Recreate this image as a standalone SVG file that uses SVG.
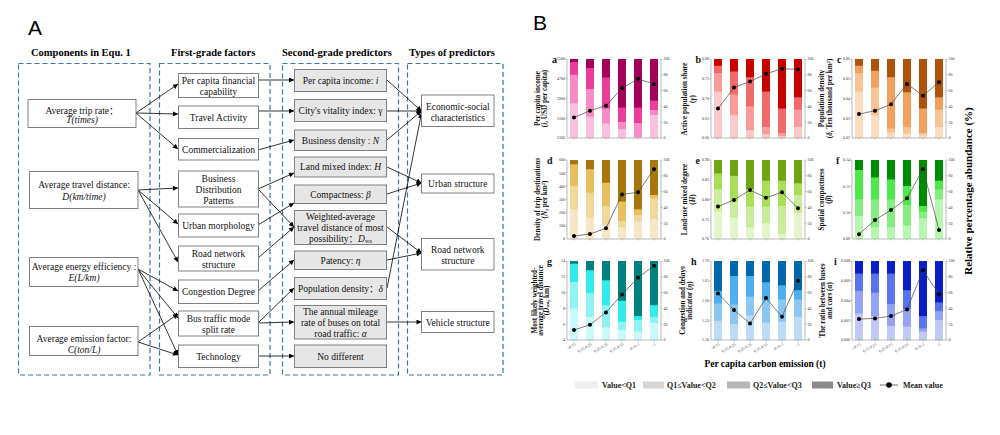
<svg xmlns="http://www.w3.org/2000/svg" width="1000" height="435" viewBox="0 0 1000 435">
<defs>
<marker id="ah" viewBox="0 0 10 10" refX="10" refY="5" markerWidth="6" markerHeight="5" orient="auto" markerUnits="userSpaceOnUse"><path d="M0,0 L10,5 L0,10 z" fill="#000"/></marker>
<style>
.hd{font:bold 10.5px "Liberation Serif","Times New Roman",serif;fill:#000}
.nt{font:9.5px "Liberation Serif","Times New Roman","Noto Sans CJK SC",serif;text-anchor:middle;fill:#111}
.nd{fill:#fff;stroke:#808080;stroke-width:1}
.ng{fill:#e6e6e6;stroke:#808080;stroke-width:1}
.dash{fill:none;stroke:#3f72a8;stroke-width:1.2;stroke-dasharray:5 3}
.cn{stroke:#000;stroke-width:0.8;fill:none;marker-end:url(#ah)}
.it{font-style:italic}
.ax{fill:none;stroke:#8c8c8c;stroke-width:0.6}
.tk{font:4px "Liberation Serif",serif;fill:#333}
.tl{text-anchor:end}
.yt{font:bold 7.2px "Liberation Serif","Times New Roman",serif;text-anchor:middle;fill:#111}
.pl{font:bold 10px "Liberation Serif",serif;fill:#111}
.ml{fill:none;stroke:#444;stroke-width:0.7}
.lg{font:bold 8px "Liberation Serif","Times New Roman",serif;fill:#222}
.a1{fill:#fbc0dd}.a2{fill:#f58cc5}.a3{fill:#ec3d9c}.a4{fill:#a3005a}
.b1{fill:#fcc8c8}.b2{fill:#f99c9c}.b3{fill:#f26a6a}.b4{fill:#c80000}
.c1{fill:#fbdcc0}.c2{fill:#f8c295}.c3{fill:#f2a060}.c4{fill:#b0520c}
.d1{fill:#f7e6c3}.d2{fill:#f0d79a}.d3{fill:#e8c060}.d4{fill:#a8760f}
.e1{fill:#e2f4c8}.e2{fill:#c8ec9a}.e3{fill:#a8de5a}.e4{fill:#6ea515}
.f1{fill:#b8f5b0}.f2{fill:#86ee80}.f3{fill:#4de84a}.f4{fill:#008c00}
.g1{fill:#c8fafa}.g2{fill:#90f2f2}.g3{fill:#30ecec}.g4{fill:#00807f}
.h1{fill:#bcdcf5}.h2{fill:#8cc6f2}.h3{fill:#50b0ee}.h4{fill:#0068aa}
.i1{fill:#c0c8fa}.i2{fill:#94a2f4}.i3{fill:#5a72ee}.i4{fill:#0a1ec8}
</style>
</defs>
<rect width="1000" height="435" fill="#fff"/>

<!-- Panel A -->
<text x="28" y="35" font-family="Liberation Sans, Arial, sans-serif" font-size="21">A</text>
<text class="hd" x="31" y="56">Components in Equ. 1</text>
<text class="hd" x="171" y="56">First-grade factors</text>
<text class="hd" x="282" y="56">Second-grade predictors</text>
<text class="hd" x="409" y="56">Types of predictors</text>
<rect class="dash" x="18.5" y="63.5" width="131.5" height="311.5"/>
<rect class="dash" x="159.5" y="63.5" width="110.5" height="311.5"/>
<rect class="dash" x="282.5" y="63.5" width="116" height="311.5"/>
<rect class="dash" x="407.5" y="63.5" width="95.5" height="311.5"/>

<g id="connectors">
<path class="cn" d="M136,113 L178,84"/>
<path class="cn" d="M136,113 L178,114"/>
<path class="cn" d="M136,113 L178,149"/>
<path class="cn" d="M138,190 L178,188"/>
<path class="cn" d="M138,190 L178,224"/>
<path class="cn" d="M138,190 L178,262"/>
<path class="cn" d="M138,269 L178,291"/>
<path class="cn" d="M138,269 L178,318"/>
<path class="cn" d="M138,269 L178,355"/>
<path class="cn" d="M138,342 L178,314"/>
<path class="cn" d="M138,342 L178,355"/>
<path class="cn" d="M258,80 L294,80"/>
<path class="cn" d="M258,111 L294,111"/>
<path class="cn" d="M258,150 L294,140"/>
<path class="cn" d="M258,189 L294,173"/>
<path class="cn" d="M258,189 L294,227"/>
<path class="cn" d="M258,225 L294,203"/>
<path class="cn" d="M258,258 L294,227"/>
<path class="cn" d="M258,291 L294,260"/>
<path class="cn" d="M258,323 L294,288"/>
<path class="cn" d="M258,323 L294,322"/>
<path class="cn" d="M258,356 L294,356"/>
<path class="cn" d="M387,80 L421.5,111"/>
<path class="cn" d="M387,111 L421.5,111"/>
<path class="cn" d="M387,140 L421.5,111"/>
<path class="cn" d="M387,288 L421.5,113"/>
<path class="cn" d="M387,167 L421.5,183"/>
<path class="cn" d="M387,194 L421.5,183"/>
<path class="cn" d="M387,227 L421.5,253"/>
<path class="cn" d="M387,260 L421.5,253"/>
<path class="cn" d="M387,322 L421.5,322"/>
</g>

<g id="n-trip"><rect class="nd" x="28" y="99.5" width="108" height="28"/><text class="nt" x="82" y="113.5">Average trip rate：</text><text class="nt it" x="82" y="123">T(times)</text></g>
<g id="n-dist"><rect class="nd" x="29.5" y="171.5" width="108.5" height="37"/><text class="nt" x="84" y="188">Average travel distance:</text><text class="nt it" x="84" y="200">D(km/time)</text></g>
<g id="n-energy"><rect class="nd" x="29.5" y="257.5" width="108.5" height="29"/><text class="nt" x="84" y="270">Average energy efficiency :</text><text class="nt it" x="84" y="281">E(L/km)</text></g>
<g id="n-emis"><rect class="nd" x="29.5" y="326.5" width="108.5" height="29"/><text class="nt" x="84" y="341.5">Average emission factor:</text><text class="nt it" x="84" y="352.5">C(ton/L)</text></g>

<g id="n-fin"><rect class="nd" x="178.5" y="73.5" width="80" height="24"/><text class="nt" x="218.5" y="84">Per capita financial</text><text class="nt" x="218.5" y="94.5">capability</text></g>
<g id="n-travel"><rect class="nd" x="178.5" y="106" width="80" height="22.5"/><text class="nt" x="218.5" y="120.5">Travel Activity</text></g>
<g id="n-comm"><rect class="nd" x="178.5" y="138.5" width="80" height="21.5"/><text class="nt" x="218.5" y="152.5">Commercialization</text></g>
<g id="n-bdp"><rect class="nd" x="178.5" y="171" width="80" height="36"/><text class="nt" x="218.5" y="181.5">Business</text><text class="nt" x="218.5" y="192.5">Distribution</text><text class="nt" x="218.5" y="203.5">Patterns</text></g>
<g id="n-urban"><rect class="nd" x="178.5" y="214" width="80" height="23"/><text class="nt" x="218.5" y="229">Urban morphology</text></g>
<g id="n-road"><rect class="nd" x="178.5" y="246" width="80" height="25"/><text class="nt" x="218.5" y="257">Road network</text><text class="nt" x="218.5" y="268">structure</text></g>
<g id="n-cong"><rect class="nd" x="178.5" y="280" width="80" height="23.5"/><text class="nt" x="218.5" y="295">Congestion Degree</text></g>
<g id="n-bus"><rect class="nd" x="178.5" y="311" width="80" height="25"/><text class="nt" x="218.5" y="321.5">Bus traffic mode</text><text class="nt" x="218.5" y="333">split rate</text></g>
<g id="n-tech"><rect class="nd" x="178.5" y="345" width="80" height="22.5"/><text class="nt" x="218.5" y="359.5">Technology</text></g>

<g id="p-income"><rect class="ng" x="294.5" y="69.5" width="92" height="22"/><text class="nt" x="340.5" y="84">Per capita income: <tspan class="it">i</tspan></text></g>
<g id="p-vital"><rect class="ng" x="294.5" y="99.5" width="92" height="22"/><text class="nt" x="340.5" y="114">City's vitality index: γ</text></g>
<g id="p-bdens"><rect class="ng" x="294.5" y="130" width="92" height="20.5"/><text class="nt" x="340.5" y="143.5">Business density : <tspan class="it">N</tspan></text></g>
<g id="p-land"><rect class="ng" x="294.5" y="157" width="92" height="20"/><text class="nt" x="340.5" y="170">Land mixed index: <tspan class="it">H</tspan></text></g>
<g id="p-comp"><rect class="ng" x="294.5" y="185" width="92" height="18.5"/><text class="nt" x="340.5" y="197.5">Compactness: <tspan class="it">β</tspan></text></g>
<g id="p-wad"><rect class="ng" x="294.5" y="210.5" width="92" height="34"/><text class="nt" x="340.5" y="219.5">Weighted-average</text><text class="nt" x="340.5" y="230.8">travel distance of most</text><text class="nt" x="340.5" y="241.8">possibility：<tspan class="it">D</tspan><tspan font-size="6" dy="1.5">wa</tspan></text></g>
<g id="p-pat"><rect class="ng" x="294.5" y="251" width="92" height="18.5"/><text class="nt" x="340.5" y="263.5">Patency: <tspan class="it">η</tspan></text></g>
<g id="p-pop"><rect class="ng" x="294.5" y="277.5" width="92" height="22"/><text class="nt" x="340.5" y="291.5">Population density：<tspan class="it">δ</tspan></text></g>
<g id="p-mile"><rect class="ng" x="294.5" y="305.5" width="92" height="33.5"/><text class="nt" x="340.5" y="315">The annual mileage</text><text class="nt" x="340.5" y="326">rate of buses on total</text><text class="nt" x="340.5" y="337">road traffic: <tspan class="it">α</tspan></text></g>
<g id="p-nodiff"><rect class="ng" x="294.5" y="345" width="92" height="22.5"/><text class="nt" x="340.5" y="359.5">No different</text></g>

<g id="t-econ"><rect class="nd" x="421.5" y="95" width="72.5" height="31.5"/><text class="nt" x="457.8" y="109.5">Economic-social</text><text class="nt" x="457.8" y="120.5">characteristics</text></g>
<g id="t-urban"><rect class="nd" x="421.5" y="174" width="72.5" height="19"/><text class="nt" x="457.8" y="186.5">Urban structure</text></g>
<g id="t-road"><rect class="nd" x="421.5" y="238.5" width="72.5" height="31.5"/><text class="nt" x="457.8" y="252.8">Road network</text><text class="nt" x="457.8" y="263.8">structure</text></g>
<g id="t-veh"><rect class="nd" x="421.5" y="311.5" width="72.5" height="21"/><text class="nt" x="457.8" y="325.5">Vehicle structure</text></g>

<!-- Panel B -->
<text x="533" y="30" font-family="Liberation Sans, Arial, sans-serif" font-size="21">B</text>

<!-- chart a -->
<g id="chart-a" transform="translate(567,59)">
<rect class="a1" x="3" y="0" width="8" height="79"/><rect class="a2" x="3" y="0" width="8" height="44.2"/><rect class="a3" x="3" y="0" width="8" height="15.8"/><rect class="a4" x="3" y="0" width="8" height="3.2"/>
<rect class="a1" x="19" y="0" width="8" height="79"/><rect class="a2" x="19" y="0" width="8" height="57.7"/><rect class="a3" x="19" y="0" width="8" height="30"/><rect class="a4" x="19" y="0" width="8" height="9.1"/>
<rect class="a1" x="35" y="0" width="8" height="79"/><rect class="a2" x="35" y="0" width="8" height="64.5"/><rect class="a3" x="35" y="0" width="8" height="49.5"/><rect class="a4" x="35" y="0" width="8" height="18.5"/>
<rect class="a1" x="51" y="0" width="8" height="79"/><rect class="a2" x="51" y="0" width="8" height="70.2"/><rect class="a3" x="51" y="0" width="8" height="62.9"/><rect class="a4" x="51" y="0" width="8" height="48.7"/>
<rect class="a1" x="67" y="0" width="8" height="79"/><rect class="a2" x="67" y="0" width="8" height="78.2"/><rect class="a3" x="67" y="0" width="8" height="64"/><rect class="a4" x="67" y="0" width="8" height="48.7"/>
<rect class="a1" x="83" y="0" width="8" height="79"/><rect class="a2" x="83" y="0" width="8" height="56.1"/><rect class="a3" x="83" y="0" width="8" height="51.1"/><rect class="a4" x="83" y="0" width="8" height="41.7"/>
<path class="ax" d="M0,0 V79 H94 V0 M-1.5,0 H0 M-1.5,19.75 H0 M-1.5,39.5 H0 M-1.5,59.25 H0 M94,0 h1.5 M94,15.8 h1.5 M94,31.6 h1.5 M94,47.4 h1.5 M94,63.2 h1.5 M94,79 h1.5 M7,79 v1.5 M23,79 v1.5 M39,79 v1.5 M55,79 v1.5 M71,79 v1.5 M87,79 v1.5"/>
<polyline class="ml" points="7,58.5 23,51.7 39,46.7 55,29.2 71,19.8 87,25.2"/>
<g fill="#000"><circle cx="7" cy="58.5" r="2"/><circle cx="23" cy="51.7" r="2"/><circle cx="39" cy="46.7" r="2"/><circle cx="55" cy="29.2" r="2"/><circle cx="71" cy="19.8" r="2"/><circle cx="87" cy="25.2" r="2"/></g>
<g class="tk tl"><text x="-2" y="1.4">5500</text><text x="-2" y="21.1">4700</text><text x="-2" y="40.9">3900</text><text x="-2" y="60.6">3100</text><text x="-2" y="80.4">2300</text></g>
<g class="tk"><text x="96.5" y="1.4">100</text><text x="96.5" y="17.2">80</text><text x="96.5" y="33">60</text><text x="96.5" y="48.8">40</text><text x="96.5" y="64.6">20</text><text x="96.5" y="80.4">0</text></g>
<text class="pl" x="-15" y="4">a</text>
</g>
<text class="yt" transform="translate(539.5,98.5) rotate(-90)">Per capita income</text>
<text class="yt" transform="translate(546.5,98.5) rotate(-90)">(<tspan class="it">i</tspan>, USD per capita)</text>

<!-- chart b -->
<g id="chart-b" transform="translate(711,59)">
<rect class="b1" x="3" y="0" width="8" height="79"/><rect class="b2" x="3" y="0" width="8" height="32.6"/><rect class="b3" x="3" y="0" width="8" height="14.1"/><rect class="b4" x="3" y="0" width="8" height="6.7"/>
<rect class="b1" x="19" y="0" width="8" height="79"/><rect class="b2" x="19" y="0" width="8" height="56.1"/><rect class="b3" x="19" y="0" width="8" height="35.6"/><rect class="b4" x="19" y="0" width="8" height="12.4"/>
<rect class="b1" x="35" y="0" width="8" height="79"/><rect class="b2" x="35" y="0" width="8" height="71.1"/><rect class="b3" x="35" y="0" width="8" height="47.4"/><rect class="b4" x="35" y="0" width="8" height="18.2"/>
<rect class="b1" x="51" y="0" width="8" height="79"/><rect class="b2" x="51" y="0" width="8" height="75.1"/><rect class="b3" x="51" y="0" width="8" height="67.9"/><rect class="b4" x="51" y="0" width="8" height="32.6"/>
<rect class="b1" x="67" y="0" width="8" height="79"/><rect class="b2" x="67" y="0" width="8" height="77"/><rect class="b3" x="67" y="0" width="8" height="73.9"/><rect class="b4" x="67" y="0" width="8" height="49.5"/>
<rect class="b1" x="83" y="0" width="8" height="79"/><rect class="b2" x="83" y="0" width="8" height="67.9"/><rect class="b3" x="83" y="0" width="8" height="50.6"/><rect class="b4" x="83" y="0" width="8" height="38.3"/>
<path class="ax" d="M0,0 V79 H94 V0 M-1.5,0 H0 M-1.5,19.75 H0 M-1.5,39.5 H0 M-1.5,59.25 H0 M94,0 h1.5 M94,15.8 h1.5 M94,31.6 h1.5 M94,47.4 h1.5 M94,63.2 h1.5 M94,79 h1.5 M7,79 v1.5 M23,79 v1.5 M39,79 v1.5 M55,79 v1.5 M71,79 v1.5 M87,79 v1.5"/>
<polyline class="ml" points="7,49.5 23,28.6 39,22.5 55,14.8 71,9.7 87,10.4"/>
<g fill="#000"><circle cx="7" cy="49.5" r="2"/><circle cx="23" cy="28.6" r="2"/><circle cx="39" cy="22.5" r="2"/><circle cx="55" cy="14.8" r="2"/><circle cx="71" cy="9.7" r="2"/><circle cx="87" cy="10.4" r="2"/></g>
<g class="tk tl"><text x="-2" y="1.4">0.80</text><text x="-2" y="21.1">0.75</text><text x="-2" y="40.9">0.70</text><text x="-2" y="60.6">0.65</text><text x="-2" y="80.4">0.60</text></g>
<g class="tk"><text x="96.5" y="1.4">100</text><text x="96.5" y="17.2">80</text><text x="96.5" y="33">60</text><text x="96.5" y="48.8">40</text><text x="96.5" y="64.6">20</text><text x="96.5" y="80.4">0</text></g>
<text class="pl" x="-15.5" y="4">b</text>
</g>
<text class="yt" transform="translate(687,99) rotate(-90)">Active population share</text>
<text class="yt" transform="translate(694.5,99) rotate(-90)">(<tspan class="it">γ</tspan>)</text>

<!-- chart c -->
<g id="chart-c" transform="translate(852,59)">
<rect class="c1" x="3" y="0" width="8" height="79"/><rect class="c2" x="3" y="0" width="8" height="32.6"/><rect class="c3" x="3" y="0" width="8" height="14.2"/><rect class="c4" x="3" y="0" width="8" height="6.7"/>
<rect class="c1" x="19" y="0" width="8" height="79"/><rect class="c2" x="19" y="0" width="8" height="56.1"/><rect class="c3" x="19" y="0" width="8" height="28.6"/><rect class="c4" x="19" y="0" width="8" height="11.8"/>
<rect class="c1" x="35" y="0" width="8" height="79"/><rect class="c2" x="35" y="0" width="8" height="73.5"/><rect class="c3" x="35" y="0" width="8" height="69.5"/><rect class="c4" x="35" y="0" width="8" height="18.2"/>
<rect class="c1" x="51" y="0" width="8" height="79"/><rect class="c2" x="51" y="0" width="8" height="74.7"/><rect class="c3" x="51" y="0" width="8" height="67.9"/><rect class="c4" x="51" y="0" width="8" height="33.3"/>
<rect class="c1" x="67" y="0" width="8" height="79"/><rect class="c2" x="67" y="0" width="8" height="76.3"/><rect class="c3" x="67" y="0" width="8" height="73.9"/><rect class="c4" x="67" y="0" width="8" height="49.5"/>
<rect class="c1" x="83" y="0" width="8" height="79"/><rect class="c2" x="83" y="0" width="8" height="67.9"/><rect class="c3" x="83" y="0" width="8" height="50.6"/><rect class="c4" x="83" y="0" width="8" height="38.3"/>
<path class="ax" d="M0,0 V79 H94 V0 M-1.5,0 H0 M-1.5,19.75 H0 M-1.5,39.5 H0 M-1.5,59.25 H0 M94,0 h1.5 M94,15.8 h1.5 M94,31.6 h1.5 M94,47.4 h1.5 M94,63.2 h1.5 M94,79 h1.5 M7,79 v1.5 M23,79 v1.5 M39,79 v1.5 M55,79 v1.5 M71,79 v1.5 M87,79 v1.5"/>
<polyline class="ml" points="7,55.1 23,51.7 39,45.3 55,24.9 71,36.7 87,23.2"/>
<g fill="#000"><circle cx="7" cy="55.1" r="2"/><circle cx="23" cy="51.7" r="2"/><circle cx="39" cy="45.3" r="2"/><circle cx="55" cy="24.9" r="2"/><circle cx="71" cy="36.7" r="2"/><circle cx="87" cy="23.2" r="2"/></g>
<g class="tk tl"><text x="-2" y="1.4">0.06</text><text x="-2" y="21.1">0.05</text><text x="-2" y="40.9">0.04</text><text x="-2" y="60.6">0.03</text><text x="-2" y="80.4">0.02</text></g>
<g class="tk"><text x="96.5" y="1.4">100</text><text x="96.5" y="17.2">80</text><text x="96.5" y="33">60</text><text x="96.5" y="48.8">40</text><text x="96.5" y="64.6">20</text><text x="96.5" y="80.4">0</text></g>
<text class="pl" x="-15" y="4">c</text>
</g>
<text class="yt" transform="translate(824,98.5) rotate(-90)">Population density</text>
<text class="yt" transform="translate(831.5,98.5) rotate(-90)">(<tspan class="it">δ</tspan>, Ten thousand per km²)</text>

<!-- chart d -->
<g id="chart-d" transform="translate(567,160)">
<rect class="d1" x="3" y="0" width="8" height="79"/><rect class="d2" x="3" y="0" width="8" height="49.3"/><rect class="d3" x="3" y="0" width="8" height="26.1"/><rect class="d4" x="3" y="0" width="8" height="4.3"/>
<rect class="d1" x="19" y="0" width="8" height="79"/><rect class="d2" x="19" y="0" width="8" height="57.4"/><rect class="d3" x="19" y="0" width="8" height="32.7"/><rect class="d4" x="19" y="0" width="8" height="9.3"/>
<rect class="d1" x="35" y="0" width="8" height="79"/><rect class="d2" x="35" y="0" width="8" height="64.8"/><rect class="d3" x="35" y="0" width="8" height="46"/><rect class="d4" x="35" y="0" width="8" height="22.7"/>
<rect class="d1" x="51" y="0" width="8" height="79"/><rect class="d2" x="51" y="0" width="8" height="67.3"/><rect class="d3" x="51" y="0" width="8" height="61"/><rect class="d4" x="51" y="0" width="8" height="41.6"/>
<rect class="d1" x="67" y="0" width="8" height="79"/><rect class="d2" x="67" y="0" width="8" height="61.6"/><rect class="d3" x="67" y="0" width="8" height="55"/><rect class="d4" x="67" y="0" width="8" height="49.3"/>
<rect class="d1" x="83" y="0" width="8" height="79"/><rect class="d2" x="83" y="0" width="8" height="59"/><rect class="d3" x="83" y="0" width="8" height="38.3"/><rect class="d4" x="83" y="0" width="8" height="35"/>
<path class="ax" d="M0,0 V79 H94 V0 M-1.5,0 H0 M-1.5,13.17 H0 M-1.5,26.33 H0 M-1.5,39.5 H0 M-1.5,52.67 H0 M-1.5,65.83 H0 M94,0 h1.5 M94,15.8 h1.5 M94,31.6 h1.5 M94,47.4 h1.5 M94,63.2 h1.5 M94,79 h1.5 M7,79 v1.5 M23,79 v1.5 M39,79 v1.5 M55,79 v1.5 M71,79 v1.5 M87,79 v1.5"/>
<polyline class="ml" points="7,76 23,74 39,68.3 55,34.4 71,32.3 87,9.3"/>
<g fill="#000"><circle cx="7" cy="76" r="2"/><circle cx="23" cy="74" r="2"/><circle cx="39" cy="68.3" r="2"/><circle cx="55" cy="34.4" r="2"/><circle cx="71" cy="32.3" r="2"/><circle cx="87" cy="9.3" r="2"/></g>
<g class="tk tl"><text x="-2" y="1.4">600</text><text x="-2" y="14.6">500</text><text x="-2" y="27.7">400</text><text x="-2" y="40.9">300</text><text x="-2" y="54.1">200</text><text x="-2" y="67.2">100</text><text x="-2" y="80.4">0</text></g>
<g class="tk"><text x="96.5" y="1.4">100</text><text x="96.5" y="17.2">80</text><text x="96.5" y="33">60</text><text x="96.5" y="48.8">40</text><text x="96.5" y="64.6">20</text><text x="96.5" y="80.4">0</text></g>
<text class="pl" x="-20" y="4">d</text>
</g>
<text class="yt" transform="translate(539.5,199.5) rotate(-90)">Density of trip destinations</text>
<text class="yt" transform="translate(546.5,199.5) rotate(-90)">(<tspan class="it">N</tspan>, per km²)</text>

<!-- chart e -->
<g id="chart-e" transform="translate(711,160)">
<rect class="e1" x="3" y="0" width="8" height="79"/><rect class="e2" x="3" y="0" width="8" height="51.4"/><rect class="e3" x="3" y="0" width="8" height="29.2"/><rect class="e4" x="3" y="0" width="8" height="13.4"/>
<rect class="e1" x="19" y="0" width="8" height="79"/><rect class="e2" x="19" y="0" width="8" height="57.4"/><rect class="e3" x="19" y="0" width="8" height="41.1"/><rect class="e4" x="19" y="0" width="8" height="15.8"/>
<rect class="e1" x="35" y="0" width="8" height="79"/><rect class="e2" x="35" y="0" width="8" height="67.3"/><rect class="e3" x="35" y="0" width="8" height="46.6"/><rect class="e4" x="35" y="0" width="8" height="29.3"/>
<rect class="e1" x="51" y="0" width="8" height="79"/><rect class="e2" x="51" y="0" width="8" height="63.2"/><rect class="e3" x="51" y="0" width="8" height="46.6"/><rect class="e4" x="51" y="0" width="8" height="20.7"/>
<rect class="e1" x="67" y="0" width="8" height="79"/><rect class="e2" x="67" y="0" width="8" height="74"/><rect class="e3" x="67" y="0" width="8" height="46"/><rect class="e4" x="67" y="0" width="8" height="20.7"/>
<rect class="e1" x="83" y="0" width="8" height="79"/><rect class="e2" x="83" y="0" width="8" height="52.7"/><rect class="e3" x="83" y="0" width="8" height="35"/><rect class="e4" x="83" y="0" width="8" height="23.3"/>
<path class="ax" d="M0,0 V79 H94 V0 M-1.5,0 H0 M-1.5,19.75 H0 M-1.5,39.5 H0 M-1.5,59.25 H0 M94,0 h1.5 M94,15.8 h1.5 M94,31.6 h1.5 M94,47.4 h1.5 M94,63.2 h1.5 M94,79 h1.5 M7,79 v1.5 M23,79 v1.5 M39,79 v1.5 M55,79 v1.5 M71,79 v1.5 M87,79 v1.5"/>
<polyline class="ml" points="7,46.6 23,40 39,30 55,37.7 71,32.3 87,48.3"/>
<g fill="#000"><circle cx="7" cy="46.6" r="2"/><circle cx="23" cy="40" r="2"/><circle cx="39" cy="30" r="2"/><circle cx="55" cy="37.7" r="2"/><circle cx="71" cy="32.3" r="2"/><circle cx="87" cy="48.3" r="2"/></g>
<g class="tk tl"><text x="-2" y="1.4">0.90</text><text x="-2" y="21.1">0.85</text><text x="-2" y="40.9">0.80</text><text x="-2" y="60.6">0.75</text><text x="-2" y="80.4">0.70</text></g>
<g class="tk"><text x="96.5" y="1.4">100</text><text x="96.5" y="17.2">80</text><text x="96.5" y="33">60</text><text x="96.5" y="48.8">40</text><text x="96.5" y="64.6">20</text><text x="96.5" y="80.4">0</text></g>
<text class="pl" x="-15.5" y="4">e</text>
</g>
<text class="yt" transform="translate(687,199.5) rotate(-90)">Land-use mixed degree</text>
<text class="yt" transform="translate(694.5,199.5) rotate(-90)">(<tspan class="it">H</tspan>)</text>

<!-- chart f -->
<g id="chart-f" transform="translate(852,160)">
<rect class="f1" x="3" y="0" width="8" height="79"/><rect class="f2" x="3" y="0" width="8" height="56"/><rect class="f3" x="3" y="0" width="8" height="39.3"/><rect class="f4" x="3" y="0" width="8" height="10"/>
<rect class="f1" x="19" y="0" width="8" height="79"/><rect class="f2" x="19" y="0" width="8" height="67.2"/><rect class="f3" x="19" y="0" width="8" height="39.5"/><rect class="f4" x="19" y="0" width="8" height="17.4"/>
<rect class="f1" x="35" y="0" width="8" height="79"/><rect class="f2" x="35" y="0" width="8" height="67.3"/><rect class="f3" x="35" y="0" width="8" height="39.5"/><rect class="f4" x="35" y="0" width="8" height="19.4"/>
<rect class="f1" x="51" y="0" width="8" height="79"/><rect class="f2" x="51" y="0" width="8" height="65.6"/><rect class="f3" x="51" y="0" width="8" height="45"/><rect class="f4" x="51" y="0" width="8" height="26"/>
<rect class="f1" x="67" y="0" width="8" height="79"/><rect class="f2" x="67" y="0" width="8" height="58.3"/><rect class="f3" x="67" y="0" width="8" height="51.7"/><rect class="f4" x="67" y="0" width="8" height="46"/>
<rect class="f1" x="83" y="0" width="8" height="79"/><rect class="f2" x="83" y="0" width="8" height="39.3"/><rect class="f3" x="83" y="0" width="8" height="29.3"/><rect class="f4" x="83" y="0" width="8" height="20.7"/>
<path class="ax" d="M0,0 V79 H94 V0 M-1.5,0 H0 M-1.5,26.33 H0 M-1.5,52.67 H0 M94,0 h1.5 M94,15.8 h1.5 M94,31.6 h1.5 M94,47.4 h1.5 M94,63.2 h1.5 M94,79 h1.5 M7,79 v1.5 M23,79 v1.5 M39,79 v1.5 M55,79 v1.5 M71,79 v1.5 M87,79 v1.5"/>
<polyline class="ml" points="7,74.3 23,60 39,50 55,38.3 71,9 87,70"/>
<g fill="#000"><circle cx="7" cy="74.3" r="2"/><circle cx="23" cy="60" r="2"/><circle cx="39" cy="50" r="2"/><circle cx="55" cy="38.3" r="2"/><circle cx="71" cy="9" r="2"/><circle cx="87" cy="70" r="2"/></g>
<g class="tk tl"><text x="-2" y="1.4">0.14</text><text x="-2" y="27.7">0.12</text><text x="-2" y="54.1">0.10</text><text x="-2" y="80.4">0.08</text></g>
<g class="tk"><text x="96.5" y="1.4">100</text><text x="96.5" y="17.2">80</text><text x="96.5" y="33">60</text><text x="96.5" y="48.8">40</text><text x="96.5" y="64.6">20</text><text x="96.5" y="80.4">0</text></g>
<text class="pl" x="-16" y="4">f</text>
</g>
<text class="yt" transform="translate(824,199.5) rotate(-90)">Spatial compactness</text>
<text class="yt" transform="translate(831,199.5) rotate(-90)">(<tspan class="it">β</tspan>)</text>

<!-- chart g -->
<g id="chart-g" transform="translate(567,261)">
<rect class="g1" x="3" y="0" width="8" height="79"/><rect class="g2" x="3" y="0" width="8" height="47.4"/><rect class="g3" x="3" y="0" width="8" height="20.9"/><rect class="g4" x="3" y="0" width="8" height="2.7"/>
<rect class="g1" x="19" y="0" width="8" height="79"/><rect class="g2" x="19" y="0" width="8" height="55.8"/><rect class="g3" x="19" y="0" width="8" height="31.8"/><rect class="g4" x="19" y="0" width="8" height="9.3"/>
<rect class="g1" x="35" y="0" width="8" height="79"/><rect class="g2" x="35" y="0" width="8" height="66.4"/><rect class="g3" x="35" y="0" width="8" height="44.2"/><rect class="g4" x="35" y="0" width="8" height="19.3"/>
<rect class="g1" x="51" y="0" width="8" height="79"/><rect class="g2" x="51" y="0" width="8" height="69"/><rect class="g3" x="51" y="0" width="8" height="60.8"/><rect class="g4" x="51" y="0" width="8" height="39.8"/>
<rect class="g1" x="67" y="0" width="8" height="79"/><rect class="g2" x="67" y="0" width="8" height="70.7"/><rect class="g3" x="67" y="0" width="8" height="59.1"/><rect class="g4" x="67" y="0" width="8" height="55.1"/>
<rect class="g1" x="83" y="0" width="8" height="79"/><rect class="g2" x="83" y="0" width="8" height="61.8"/><rect class="g3" x="83" y="0" width="8" height="55.8"/><rect class="g4" x="83" y="0" width="8" height="44.2"/>
<path class="ax" d="M0,0 V79 H94 V0 M-1.5,0 H0 M-1.5,15.8 H0 M-1.5,31.6 H0 M-1.5,47.4 H0 M-1.5,63.2 H0 M94,0 h1.5 M94,15.8 h1.5 M94,31.6 h1.5 M94,47.4 h1.5 M94,63.2 h1.5 M94,79 h1.5 M7,79 v1.5 M23,79 v1.5 M39,79 v1.5 M55,79 v1.5 M71,79 v1.5 M87,79 v1.5"/>
<polyline class="ml" points="7,69 23,63.8 39,51.4 55,33.5 71,16.6 87,4.7"/>
<g fill="#000"><circle cx="7" cy="69" r="2"/><circle cx="23" cy="63.8" r="2"/><circle cx="39" cy="51.4" r="2"/><circle cx="55" cy="33.5" r="2"/><circle cx="71" cy="16.6" r="2"/><circle cx="87" cy="4.7" r="2"/></g>
<g class="tk tl"><text x="-2" y="1.4">14</text><text x="-2" y="17.2">12</text><text x="-2" y="33">10</text><text x="-2" y="48.8">8</text><text x="-2" y="64.6">6</text><text x="-2" y="80.4">4</text></g>
<g class="tk"><text x="96.5" y="1.4">100</text><text x="96.5" y="17.2">80</text><text x="96.5" y="33">60</text><text x="96.5" y="48.8">40</text><text x="96.5" y="64.6">20</text><text x="96.5" y="80.4">0</text></g>
<g class="tk tl"><text transform="translate(9,84) rotate(-30)">&lt;0.15</text><text transform="translate(25,84) rotate(-30)">0.15-0.25</text><text transform="translate(41,84) rotate(-30)">0.25-0.35</text><text transform="translate(57,84) rotate(-30)">0.35-0.55</text><text transform="translate(73,84) rotate(-30)">0.55-1</text><text transform="translate(89,84) rotate(-30)">&gt;1</text></g>
<text class="pl" x="-20" y="4">g</text>
</g>
<text class="yt" transform="translate(536.5,300.5) rotate(-90)">Most likely weighted-</text>
<text class="yt" transform="translate(542.5,300.5) rotate(-90)">average travel distance</text>
<text class="yt" transform="translate(548.5,300.5) rotate(-90)">(<tspan class="it">D</tspan><tspan font-size="5">wa</tspan>, km)</text>

<!-- chart h -->
<g id="chart-h" transform="translate(711,261)">
<rect class="h1" x="3" y="0" width="8" height="79"/><rect class="h2" x="3" y="0" width="8" height="59.7"/><rect class="h3" x="3" y="0" width="8" height="42.5"/><rect class="h4" x="3" y="0" width="8" height="29.9"/>
<rect class="h1" x="19" y="0" width="8" height="79"/><rect class="h2" x="19" y="0" width="8" height="63.2"/><rect class="h3" x="19" y="0" width="8" height="43.5"/><rect class="h4" x="19" y="0" width="8" height="15"/>
<rect class="h1" x="35" y="0" width="8" height="79"/><rect class="h2" x="35" y="0" width="8" height="54.5"/><rect class="h3" x="35" y="0" width="8" height="35.6"/><rect class="h4" x="35" y="0" width="8" height="15"/>
<rect class="h1" x="51" y="0" width="8" height="79"/><rect class="h2" x="51" y="0" width="8" height="61.6"/><rect class="h3" x="51" y="0" width="8" height="39.5"/><rect class="h4" x="51" y="0" width="8" height="21.3"/>
<rect class="h1" x="67" y="0" width="8" height="79"/><rect class="h2" x="67" y="0" width="8" height="60.8"/><rect class="h3" x="67" y="0" width="8" height="38.5"/><rect class="h4" x="67" y="0" width="8" height="24.3"/>
<rect class="h1" x="83" y="0" width="8" height="79"/><rect class="h2" x="83" y="0" width="8" height="55.8"/><rect class="h3" x="83" y="0" width="8" height="38.5"/><rect class="h4" x="83" y="0" width="8" height="29.2"/>
<path class="ax" d="M0,0 V79 H94 V0 M-1.5,0 H0 M-1.5,19.75 H0 M-1.5,39.5 H0 M-1.5,59.25 H0 M94,0 h1.5 M94,15.8 h1.5 M94,31.6 h1.5 M94,47.4 h1.5 M94,63.2 h1.5 M94,79 h1.5 M7,79 v1.5 M23,79 v1.5 M39,79 v1.5 M55,79 v1.5 M71,79 v1.5 M87,79 v1.5"/>
<polyline class="ml" points="7,32.4 23,49 39,62.4 55,37.1 71,55.7 87,19.8"/>
<g fill="#000"><circle cx="7" cy="32.4" r="2"/><circle cx="23" cy="49" r="2"/><circle cx="39" cy="62.4" r="2"/><circle cx="55" cy="37.1" r="2"/><circle cx="71" cy="55.7" r="2"/><circle cx="87" cy="19.8" r="2"/></g>
<g class="tk tl"><text x="-2" y="1.4">1.70</text><text x="-2" y="21.1">1.65</text><text x="-2" y="40.9">1.60</text><text x="-2" y="60.6">1.55</text><text x="-2" y="80.4">1.50</text></g>
<g class="tk"><text x="96.5" y="1.4">100</text><text x="96.5" y="17.2">80</text><text x="96.5" y="33">60</text><text x="96.5" y="48.8">40</text><text x="96.5" y="64.6">20</text><text x="96.5" y="80.4">0</text></g>
<g class="tk tl"><text transform="translate(9,84) rotate(-30)">&lt;0.15</text><text transform="translate(25,84) rotate(-30)">0.15-0.25</text><text transform="translate(41,84) rotate(-30)">0.25-0.35</text><text transform="translate(57,84) rotate(-30)">0.35-0.55</text><text transform="translate(73,84) rotate(-30)">0.55-1</text><text transform="translate(89,84) rotate(-30)">&gt;1</text></g>
<text class="pl" x="-20" y="4">h</text>
</g>
<text class="yt" transform="translate(685,300.5) rotate(-90)">Congestion and delays</text>
<text class="yt" transform="translate(692,300.5) rotate(-90)">indicator (<tspan class="it">η</tspan>)</text>

<!-- chart i -->
<g id="chart-i" transform="translate(852,261)">
<rect class="i1" x="3" y="0" width="8" height="79"/><rect class="i2" x="3" y="0" width="8" height="52.5"/><rect class="i3" x="3" y="0" width="8" height="29.9"/><rect class="i4" x="3" y="0" width="8" height="12.6"/>
<rect class="i1" x="19" y="0" width="8" height="79"/><rect class="i2" x="19" y="0" width="8" height="55.3"/><rect class="i3" x="19" y="0" width="8" height="31.6"/><rect class="i4" x="19" y="0" width="8" height="12.6"/>
<rect class="i1" x="35" y="0" width="8" height="79"/><rect class="i2" x="35" y="0" width="8" height="65.1"/><rect class="i3" x="35" y="0" width="8" height="43.1"/><rect class="i4" x="35" y="0" width="8" height="12.6"/>
<rect class="i1" x="51" y="0" width="8" height="79"/><rect class="i2" x="51" y="0" width="8" height="65.7"/><rect class="i3" x="51" y="0" width="8" height="48.4"/><rect class="i4" x="51" y="0" width="8" height="29.2"/>
<rect class="i1" x="67" y="0" width="8" height="79"/><rect class="i2" x="67" y="0" width="8" height="70.7"/><rect class="i3" x="67" y="0" width="8" height="67.4"/><rect class="i4" x="67" y="0" width="8" height="55.1"/>
<rect class="i1" x="83" y="0" width="8" height="79"/><rect class="i2" x="83" y="0" width="8" height="59.1"/><rect class="i3" x="83" y="0" width="8" height="50.1"/><rect class="i4" x="83" y="0" width="8" height="41.5"/>
<path class="ax" d="M0,0 V79 H94 V0 M-1.5,0 H0 M-1.5,19.75 H0 M-1.5,39.5 H0 M-1.5,59.25 H0 M94,0 h1.5 M94,15.8 h1.5 M94,31.6 h1.5 M94,47.4 h1.5 M94,63.2 h1.5 M94,79 h1.5 M7,79 v1.5 M23,79 v1.5 M39,79 v1.5 M55,79 v1.5 M71,79 v1.5 M87,79 v1.5"/>
<polyline class="ml" points="7,58.1 23,57.4 39,55.1 55,48.4 71,9.3 87,33.2"/>
<g fill="#000"><circle cx="7" cy="58.1" r="2"/><circle cx="23" cy="57.4" r="2"/><circle cx="39" cy="55.1" r="2"/><circle cx="55" cy="48.4" r="2"/><circle cx="71" cy="9.3" r="2"/><circle cx="87" cy="33.2" r="2"/></g>
<g class="tk tl"><text x="-2" y="1.4">0.008</text><text x="-2" y="21.1">0.006</text><text x="-2" y="40.9">0.004</text><text x="-2" y="60.6">0.002</text><text x="-2" y="80.4">0.000</text></g>
<g class="tk"><text x="96.5" y="1.4">100</text><text x="96.5" y="17.2">80</text><text x="96.5" y="33">60</text><text x="96.5" y="48.8">40</text><text x="96.5" y="64.6">20</text><text x="96.5" y="80.4">0</text></g>
<g class="tk tl"><text transform="translate(9,84) rotate(-30)">&lt;0.15</text><text transform="translate(25,84) rotate(-30)">0.15-0.25</text><text transform="translate(41,84) rotate(-30)">0.25-0.35</text><text transform="translate(57,84) rotate(-30)">0.35-0.55</text><text transform="translate(73,84) rotate(-30)">0.55-1</text><text transform="translate(89,84) rotate(-30)">&gt;1</text></g>
<text class="pl" x="-18" y="4">i</text>
</g>
<text class="yt" transform="translate(825,300.5) rotate(-90)">The ratio between buses</text>
<text class="yt" transform="translate(832,300.5) rotate(-90)">and cars (<tspan class="it">α</tspan>)</text>

<text transform="translate(972,191) rotate(-90)" text-anchor="middle" font-family="Liberation Serif, Times New Roman, serif" font-weight="bold" font-size="11">Relative percentage abundance (%)</text>
<text x="765" y="367" text-anchor="middle" font-family="Liberation Serif, Times New Roman, serif" font-weight="bold" font-size="9.5">Per capita carbon emission (t)</text>

<g id="legend">
<rect x="575" y="381.5" width="23" height="7" fill="#eeeeee"/><text class="lg" x="602" y="388">Value&lt;Q1</text>
<rect x="643" y="381.5" width="21" height="7" fill="#d6d6d6"/><text class="lg" x="667" y="388">Q1≤Value&lt;Q2</text>
<rect x="727" y="381.5" width="23" height="7" fill="#b5b5b5"/><text class="lg" x="753" y="388">Q2≤Value&lt;Q3</text>
<rect x="812" y="381.5" width="21" height="7" fill="#8a8a8a"/><text class="lg" x="837" y="388">Value≥Q3</text>
<line x1="880" y1="385" x2="898" y2="385" stroke="#444" stroke-width="0.8"/><circle cx="889" cy="385" r="2.8" fill="#000"/><text class="lg" x="903" y="388">Mean value</text>
</g>
</svg>
